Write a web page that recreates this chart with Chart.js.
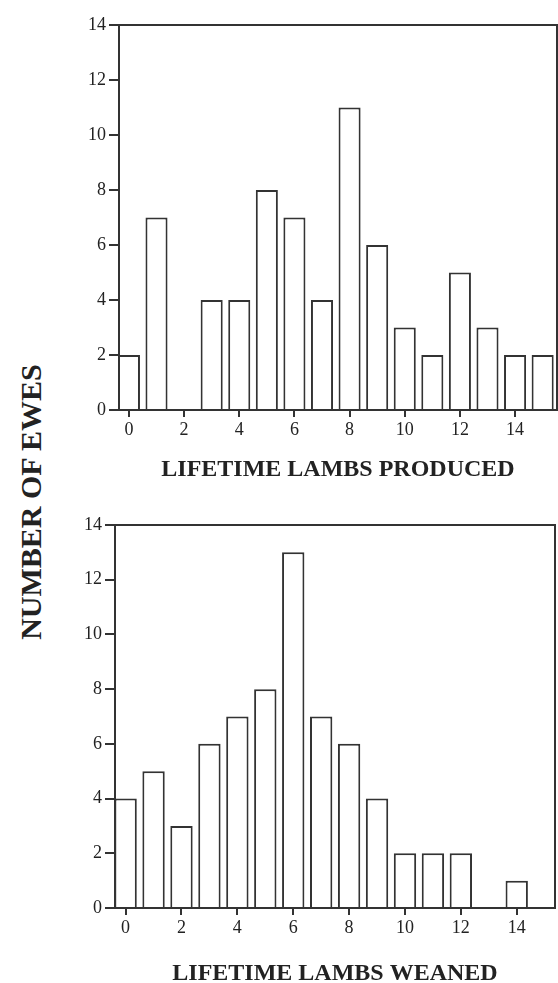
<!DOCTYPE html>
<html lang="en">
<head>
    <meta charset="UTF-8">
    <title>Lifetime Lambs</title>
    <script src="https://cdn.jsdelivr.net/npm/chart.js"></script>
    <style>
        body { margin: 0; background: #fff; }
        .page { position: relative; width: 558px; height: 983px; overflow: hidden; }
        .box { position: absolute; left: 60px; width: 498px; }
        #topBox { top: 0; height: 490px; }
        #bottomBox { top: 500px; height: 483px; }
        .ytitle {
            position: absolute; left: -118px; top: 484px; width: 300px; height: 36px;
            line-height: 36px; text-align: center; transform: rotate(-90deg);
            font: bold 30px "Liberation Serif", serif; color: #222;
        }
    </style>
</head>
<body>
    <div class="page">
        <div class="ytitle">NUMBER OF EWES</div>
        <div class="box" id="topBox"><canvas id="producedChart"></canvas></div>
        <div class="box" id="bottomBox"><canvas id="weanedChart"></canvas></div>
    </div>

    <script>
        // lambs per ewe (bar positions) and counts of ewes
        const lambs = [0, 1, 2, 3, 4, 5, 6, 7, 8, 9, 10, 11, 12, 13, 14, 15];
        const producedCounts = [2, 7, 0, 4, 4, 8, 7, 4, 11, 6, 3, 2, 5, 3, 2, 2];
        const weanedCounts = [4, 5, 3, 6, 7, 8, 13, 7, 6, 4, 2, 2, 2, 0, 1, 0];
        const xTicks = [0, 2, 4, 6, 8, 10, 12, 14];

        const ink = '#333';
        const serif = '"Liberation Serif", serif';

        // top and right sides of the frame
        const frame = {
            id: 'frame',
            afterDraw(chart) {
                const a = chart.chartArea, ctx = chart.ctx;
                ctx.save();
                ctx.strokeStyle = ink;
                ctx.lineWidth = 2;
                ctx.strokeRect(a.left, a.top, a.right - a.left, a.bottom - a.top);
                ctx.restore();
            }
        };

        function makeChart(id, counts, title, opts) {
            new Chart(document.getElementById(id), {
                type: 'bar',
                data: {
                    datasets: [{
                        data: lambs.map((x, i) => ({ x: x, y: counts[i] })),
                        backgroundColor: '#fff',
                        borderColor: ink,
                        borderWidth: 2,
                        barPercentage: 0.8,
                        categoryPercentage: 1,
                        clip: false
                    }]
                },
                options: {
                    responsive: true,
                    maintainAspectRatio: false,
                    animation: false,
                    layout: { padding: { top: 25, right: opts.padRight, left: 0, bottom: 0 } },
                    plugins: { legend: { display: false }, tooltip: { enabled: false } },
                    scales: {
                        x: {
                            type: 'linear',
                            offset: false,
                            min: opts.xMin,
                            max: opts.xMax,
                            afterBuildTicks: s => { s.ticks = xTicks.map(v => ({ value: v })); },
                            afterFit: s => { s.height = opts.xHeight; },
                            grid: { offset: false, drawOnChartArea: false, drawTicks: true, tickLength: 7, color: ink, lineWidth: 2 },
                            border: { display: true, color: ink, width: 2 },
                            ticks: { color: '#222', padding: 2, font: { family: serif, size: 18 } },
                            title: {
                                display: true,
                                text: title,
                                color: '#222',
                                padding: { top: 0, bottom: opts.titlePad },
                                font: { family: serif, size: 24, weight: 'bold', lineHeight: 0.8 }
                            }
                        },
                        y: {
                            min: 0,
                            max: 14,
                            ticks: { stepSize: 2, color: '#222', padding: 3, font: { family: serif, size: 18 } },
                            afterFit: s => { s.width = opts.yWidth; },
                            grid: { drawOnChartArea: false, drawTicks: true, tickLength: 10, color: ink, lineWidth: 2 },
                            border: { display: true, color: ink, width: 2 }
                        }
                    }
                },
                plugins: [frame]
            });
        }

        makeChart('producedChart', producedCounts, 'LIFETIME LAMBS PRODUCED',
            { xMin: -0.36, xMax: 15.52, padRight: 1, xHeight: 80, yWidth: 59, titlePad: 11 });
        makeChart('weanedChart', weanedCounts, 'LIFETIME LAMBS WEANED',
            { xMin: -0.38, xMax: 15.37, padRight: 3, xHeight: 75, yWidth: 55, titlePad: 0 });
    </script>
</body>
</html>
